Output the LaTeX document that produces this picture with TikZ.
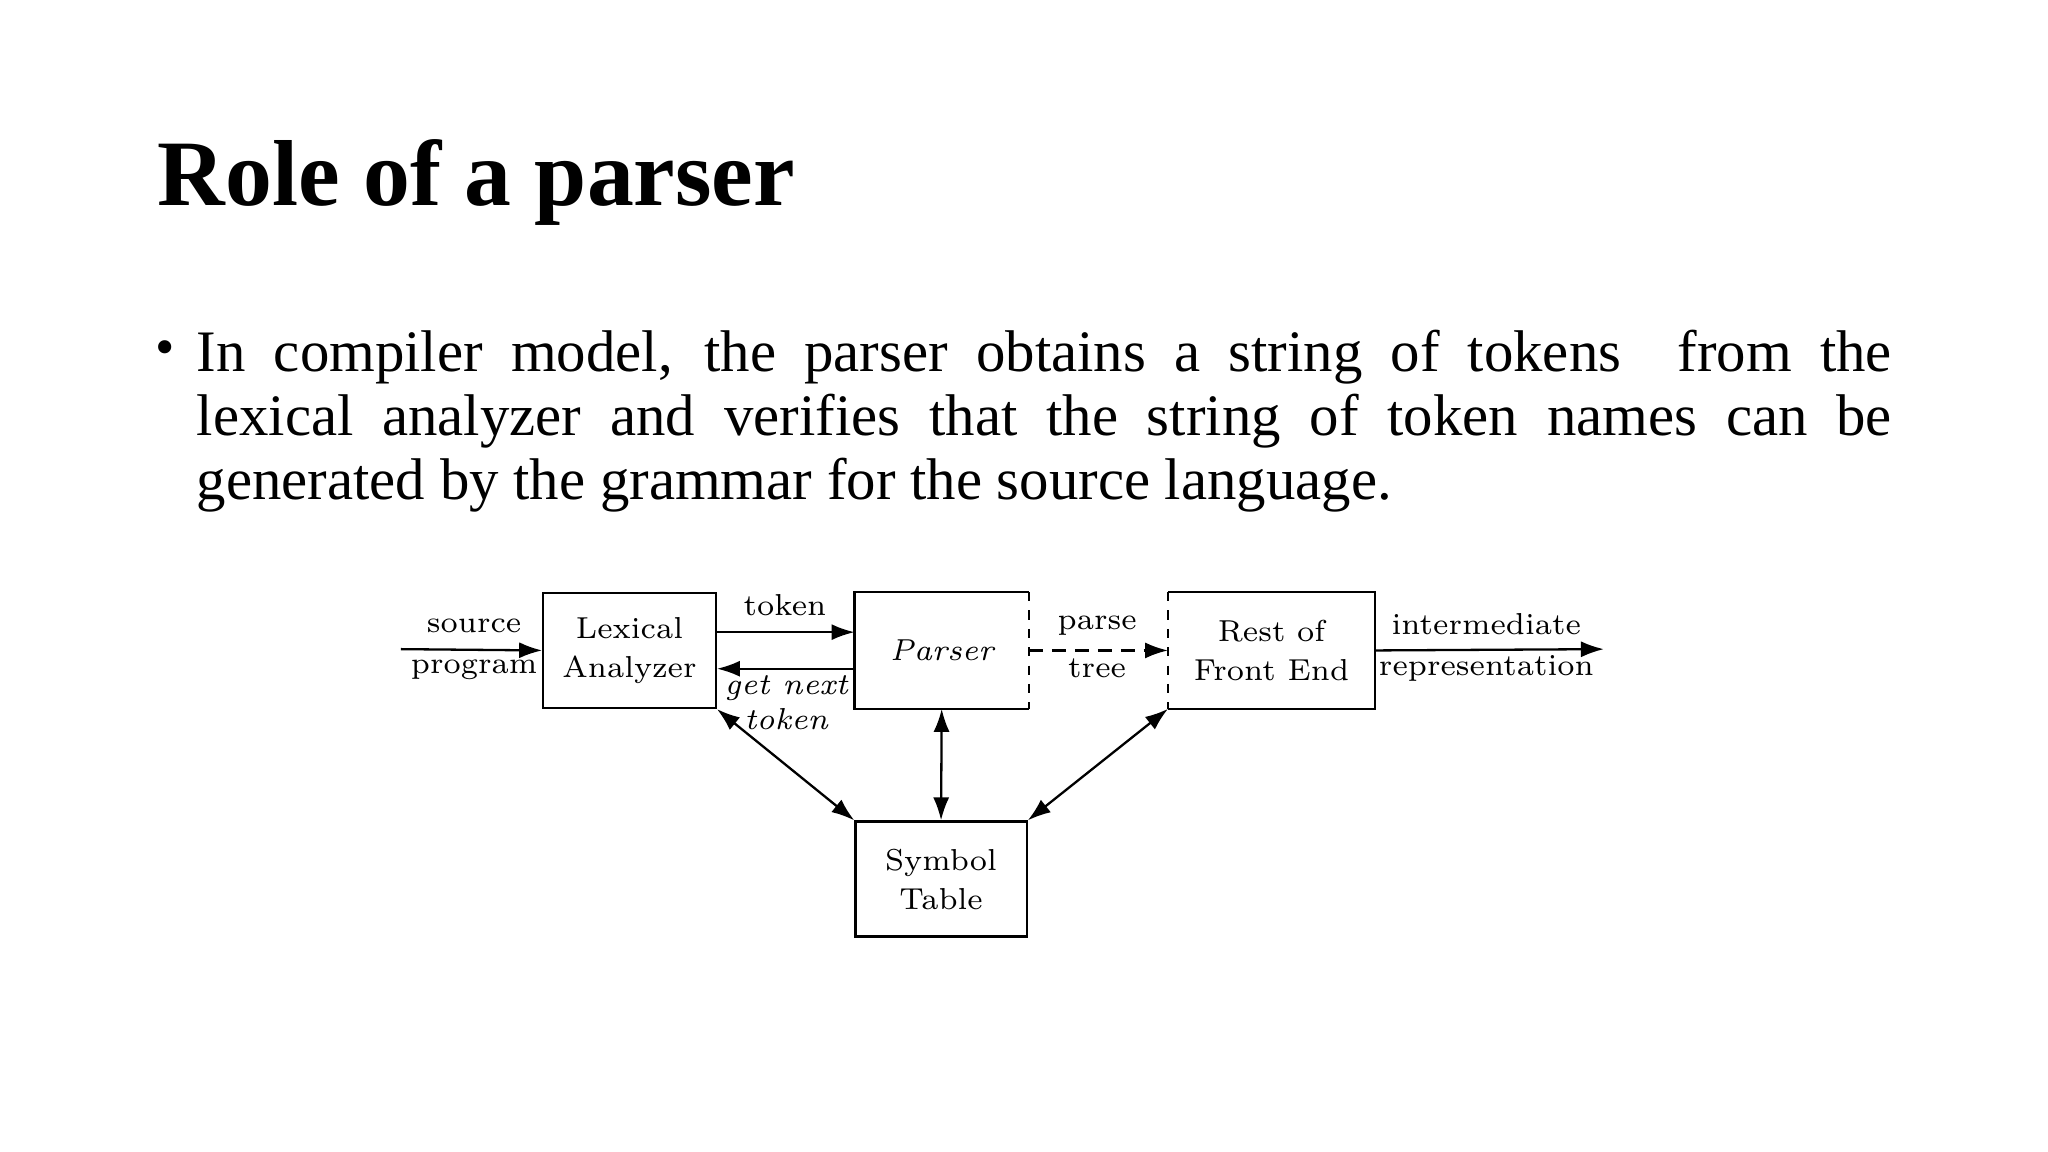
\documentclass[tikz,border=0pt]{standalone}
\usepackage{fontspec}
\newfontfamily\tnr{Liberation Serif}
\usetikzlibrary{arrows.meta}
\begin{document}
\begin{tikzpicture}[x=0.01cm,y=-0.01cm,
  box/.style={minimum width=1.32cm,minimum height=0.88cm,inner sep=0pt,font=\fontsize{6.6}{8.5}\selectfont,align=center},
  lab/.style={font=\fontsize{6.6}{8}\selectfont,inner sep=0pt,align=center},
  ar/.style={-{Latex[length=5pt,width=3.5pt]},line width=0.5pt},
  dar/.style={{Latex[length=5pt,width=3.5pt]}-{Latex[length=5pt,width=3.5pt]},line width=0.5pt}]
\useasboundingbox (0,0) rectangle (1568,882);
\node[anchor=base west,inner sep=0pt,font=\tnr\bfseries\fontsize{20.4}{24}\selectfont] (title) at (120,157) {Role of a parser};
\node[anchor=base west,inner sep=0pt,font=\tnr\fontsize{12}{14}\selectfont] (bul) at (118,280) {\textbullet};
\node[anchor=north west,inner sep=0pt,text width=12.97cm,align=justify,font=\tnr\fontsize{12.8}{13.9}\selectfont] (para) at (150,252)
{\hyphenpenalty=10000 In compiler model, the parser obtains a string of tokens\ \ from the\linebreak lexical analyzer and verifies that the string of token names can be\linebreak generated by the grammar for the source language.};
% boxes
\node[box,draw,line width=0.5pt] (lex) at (482,498) {Lexical\\Analyzer};
\node[box] (par) at (721,498) {\itshape Parser};
\draw[line width=0.5pt] (par.north east) -- (par.north west) -- (par.south west) -- (par.south east);
\draw[line width=0.5pt,dash pattern=on 2pt off 2pt] (par.north east) -- (par.south east);
\node[box,minimum width=1.57cm] (rest) at (973.5,498) {Rest of\\Front End};
\draw[line width=0.5pt] (rest.north west) -- (rest.north east) -- (rest.south east) -- (rest.south west);
\draw[line width=0.5pt,dash pattern=on 2pt off 2pt] (rest.north west) -- (rest.south west);
\node[box,draw,line width=0.5pt,minimum width=1.31cm] (sym) at (720.5,673) {Symbol\\Table};
% connectors
\coordinate (src) at (307,497);
\coordinate (out) at (1228,497);
\draw[ar] (src) -- (lex.west);
\draw[ar] (lex.east |- 0,484) -- (par.west |- 0,484);
\draw[ar] (par.west |- 0,512) -- (lex.east |- 0,512);
\draw[ar,dash pattern=on 3pt off 2pt] (par.east) -- (rest.west);
\draw[ar] (rest.east) -- (out);
\draw[dar] (lex.south east) -- (sym.north west);
\draw[dar] (par.south) -- (sym.north);
\draw[dar] (rest.south west) -- (sym.north east);
% labels
\node[lab] (l1) at (363,479) {source};
\node[lab] (l2) at (363,513) {program};
\node[lab] (l3) at (601,463) {token};
\node[lab,font=\fontsize{6.6}{7.8}\selectfont\itshape] (l4) at (602,538) {get next\\token};
\node[lab] (l5) at (840,479) {parse};
\node[lab] (l6) at (840,512) {tree};
\node[lab] (l7) at (1138,478) {intermediate};
\node[lab] (l8) at (1138,512) {representation};
\end{tikzpicture}
\end{document}
